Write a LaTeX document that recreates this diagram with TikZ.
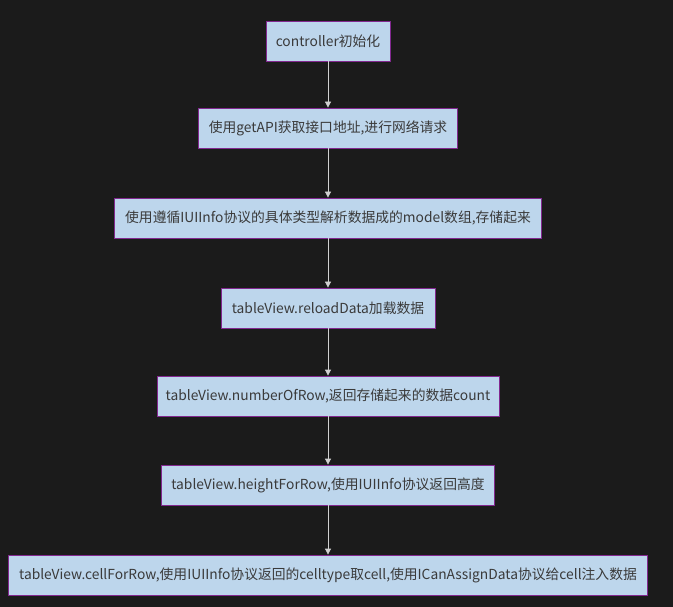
\documentclass[tikz,border=0pt]{standalone}
\usepackage{fontspec}
\usepackage{tikz}
\usetikzlibrary{arrows.meta}
\newfontfamily\cjk{Noto Sans CJK SC}
\definecolor{bgdark}{HTML}{1B1B1B}
\definecolor{boxfill}{HTML}{BDD6EC}
\definecolor{boxline}{HTML}{82288F}
\definecolor{txtgray}{HTML}{3A3A3A}
\definecolor{linkgray}{HTML}{D0D0D0}

\begin{document}
\begin{tikzpicture}[x=1pt, y=-1pt, >={Triangle[length=6pt,width=6pt]},
  every node/.style={font=\cjk\fontsize{13.8}{16}\selectfont},
  stepbox/.style={rectangle,draw=boxline,fill=boxfill,text=txtgray,line width=0.8pt,minimum height=40pt,inner sep=0pt},
  link/.style={->,draw=linkgray,line width=0.8pt}]

% Background
\fill[bgdark] (0,0) rectangle (673,607);
\useasboundingbox (0,0) rectangle (673,607);

% Steps
\node[stepbox,minimum width=124pt] at (328,41) (init) {controller初始化};
\node[stepbox,minimum width=259pt] at (328,128) (getapi) {使用getAPI获取接口地址,进行网络请求};
\node[stepbox,minimum width=427pt] at (328,218) (parse) {使用遵循IUIInfo协议的具体类型解析数据成的model数组,存储起来};
\node[stepbox,minimum width=214pt] at (328,308) (reload) {tableView.reloadData加载数据};
\node[stepbox,minimum width=342pt] at (328,396) (rows) {tableView.numberOfRow,返回存储起来的数据count};
\node[stepbox,minimum width=333pt] at (328,485) (height) {tableView.heightForRow,使用IUIInfo协议返回高度};
\node[stepbox,minimum width=639pt] at (328,575) (cell) {tableView.cellForRow,使用IUIInfo协议返回的celltype取cell,使用ICanAssignData协议给cell注入数据};

% Connections
\draw[link] (init) -- (getapi);
\draw[link] (getapi) -- (parse);
\draw[link] (parse) -- (reload);
\draw[link] (reload) -- (rows);
\draw[link] (rows) -- (height);
\draw[link] (height) -- (cell);
\end{tikzpicture}
\end{document}
